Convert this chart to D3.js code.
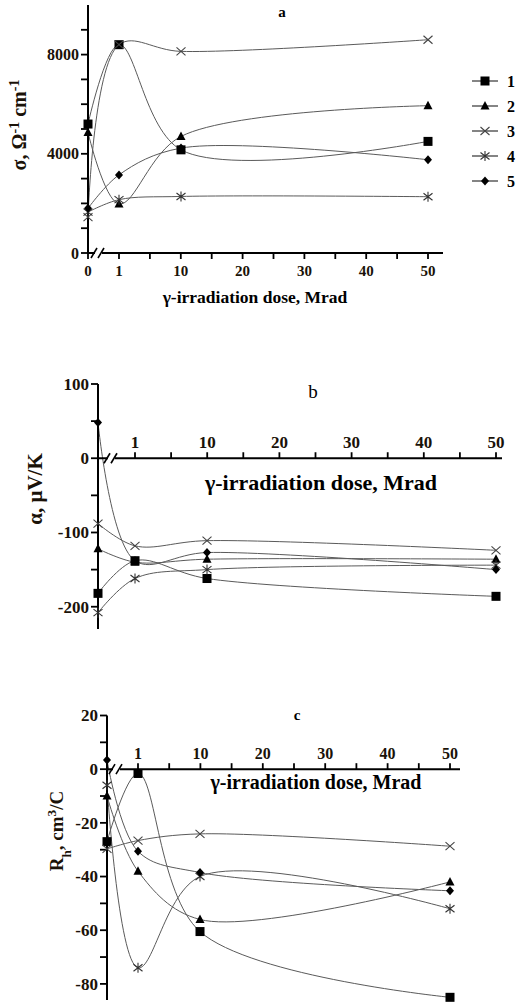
<!DOCTYPE html>
<html>
<head>
<meta charset="utf-8">
<script src="https://cdn.jsdelivr.net/npm/d3@7"></script>
<style>
  body { margin: 0; background: #fff; }
  svg { display: block; font-family: "Liberation Serif", "Times New Roman", serif; }
</style>
</head>
<body>
<svg id="chart" width="516" height="1003"></svg>
<script>
// doses, Mrad
var doses = [0, 1, 10, 50];
var seriesNames = ["1", "2", "3", "4", "5"];
var markerKinds = ["square", "triangle", "cross", "star", "diamond"];

// panel a: conductivity
var sigma1 = [5200, 8400, 4160, 4500];
var sigma2 = [4860, 1980, 4700, 5940];
var sigma3 = [1450, 8400, 8130, 8600];
var sigma4 = [1650, 2150, 2280, 2270];
var sigma5 = [1800, 3150, 4230, 3760];

// panel b: thermopower
var alpha1 = [-182, -138, -162, -186];
var alpha2 = [-122, -140, -136, -136];
var alpha3 = [-88, -118, -111, -124];
var alpha4 = [-208, -162, -150, -144];
var alpha5 = [48, -138, -127, -150];

// panel c: Hall coefficient
var hall1 = [-27, -1.6, -60.5, -85];
var hall2 = [-10, -38, -56, -42];
var hall3 = [-29.7, -26.6, -24.1, -28.7];
var hall4 = [-6, -74, -40, -52];
var hall5 = [3.4, -30.6, -38.5, -45.3];

var xTickLabels = [10, 20, 30, 40, 50];
var xMinorTicks = [5, 15, 25, 35, 45];
var sigmaTicks = d3.range(0, 10000, 1000);
var sigmaLabels = [0, 4000, 8000];
var alphaTicks = d3.range(-200, 101, 50);
var alphaLabels = [-200, -100, 0, 100];
var hallTicks = d3.range(-80, 21, 10);
var hallLabels = [-80, -60, -40, -20, 0, 20];

var svg = d3.select("#chart");
var lineColor = "#5a5a5a";
var labelColor = "#1a1208";

function drawMarker(g, kind, cx, cy) {
    if (kind == "square") {
        g.append("rect").attr("x", cx - 4.5).attr("y", cy - 4.5)
            .attr("width", 9).attr("height", 9).attr("fill", "#000");
    } else if (kind == "triangle") {
        g.append("path").attr("d", "M" + cx + "," + (cy - 5) + "L" + (cx + 4.5) + "," + (cy + 3.5) + "L" + (cx - 4.5) + "," + (cy + 3.5) + "Z")
            .attr("fill", "#000");
    } else if (kind == "cross") {
        g.append("path").attr("d", "M" + (cx - 4.5) + "," + (cy - 4) + "L" + (cx + 4.5) + "," + (cy + 4) + "M" + (cx - 4.5) + "," + (cy + 4) + "L" + (cx + 4.5) + "," + (cy - 4))
            .attr("stroke", "#444").attr("stroke-width", 1.1);
    } else if (kind == "star") {
        g.append("path").attr("d", "M" + cx + "," + (cy - 5) + "L" + cx + "," + (cy + 5) + "M" + (cx - 4.5) + "," + (cy - 3.5) + "L" + (cx + 4.5) + "," + (cy + 3.5) + "M" + (cx - 4.5) + "," + (cy + 3.5) + "L" + (cx + 4.5) + "," + (cy - 3.5))
            .attr("stroke", "#333").attr("stroke-width", 1.1);
    } else {
        g.append("path").attr("d", "M" + cx + "," + (cy - 4.5) + "L" + (cx + 4) + "," + cy + "L" + cx + "," + (cy + 4.5) + "L" + (cx - 4) + "," + cy + "Z")
            .attr("fill", "#000");
    }
}

function drawPanel(p) {
    var g = svg.append("g");
    var x = d3.scaleLinear().domain(doses).range(p.xRange);
    var u = d3.scaleLinear().domain([0, 50]).range([p.xRange[1], p.uEnd]);
    var y = d3.scaleLinear().domain(p.yDomain).range(p.yRange);
    var x0 = p.xRange[0];
    var axisY = y(p.axisAt);
    var dir = p.ticksUp ? -1 : 1;

    // curves
    var line = d3.line()
        .x(function (d, i) { return x(doses[i]); })
        .y(function (d) { return y(d); })
        .curve(d3.curveCatmullRom.alpha(0.5));
    p.series.forEach(function (s) {
        g.append("path").attr("d", line(s))
            .attr("fill", "none").attr("stroke", lineColor).attr("stroke-width", 1);
    });

    // y axis
    g.append("line").attr("x1", x0).attr("x2", x0)
        .attr("y1", y(p.yDomain[0])).attr("y2", y(p.yDomain[1]))
        .attr("stroke", "#000").attr("stroke-width", 2);
    p.yTicks.forEach(function (t) {
        g.append("line").attr("x1", x0 - 7).attr("x2", x0)
            .attr("y1", y(t)).attr("y2", y(t)).attr("stroke", "#000").attr("stroke-width", 1.8);
    });
    p.yLabels.forEach(function (t) {
        g.append("text").attr("x", x0 - 9).attr("y", y(t) + p.yTickSize * 0.35)
            .attr("text-anchor", "end").attr("font-weight", "bold").attr("font-size", p.yTickSize)
            .attr("fill", labelColor).text(t);
    });

    // x axis
    g.append("line").attr("x1", x0).attr("x2", p.xEnd)
        .attr("y1", axisY).attr("y2", axisY).attr("stroke", "#000").attr("stroke-width", 2);
    g.append("rect").attr("x", p.brk).attr("y", axisY - 2).attr("width", 7).attr("height", 4).attr("fill", "#fff");
    [p.brk - 1, p.brk + 6].forEach(function (bx) {
        g.append("line").attr("x1", bx - 3).attr("x2", bx + 3)
            .attr("y1", axisY + 5).attr("y2", axisY - 5).attr("stroke", "#000").attr("stroke-width", 1.6);
    });
    var majors = [x0, x(1)].concat(xTickLabels.map(u));
    var minors = xMinorTicks.map(u);
    majors.concat(minors).forEach(function (tx) {
        g.append("line").attr("x1", tx).attr("x2", tx)
            .attr("y1", axisY).attr("y2", axisY + dir * 6).attr("stroke", "#000").attr("stroke-width", 1.8);
    });
    var labelY = p.ticksUp ? axisY - 10 : axisY + 23;
    var labs = [{ v: 1, px: x(1) }].concat(xTickLabels.map(function (t) { return { v: t, px: u(t) }; }));
    if (!p.ticksUp) labs.unshift({ v: 0, px: x0 });
    labs.forEach(function (l) {
        g.append("text").attr("x", l.px).attr("y", labelY)
            .attr("text-anchor", "middle").attr("font-weight", "bold").attr("font-size", p.xTickSize)
            .attr("fill", labelColor).text(l.v);
    });
    g.append("text").attr("x", p.titlePos[0]).attr("y", p.titlePos[1])
        .attr("text-anchor", "middle").attr("font-weight", "bold").attr("font-size", p.titleSize)
        .text("γ-irradiation dose, Mrad");

    // y label
    var yl = g.append("text").attr("transform", "translate(" + p.yLabelPos[0] + "," + p.yLabelPos[1] + ") rotate(-90)")
        .attr("text-anchor", "middle").attr("font-weight", "bold").attr("font-size", p.yLabelSize)
        .attr("fill", labelColor);
    p.yLabelParts.forEach(function (part) {
        var ts = yl.append("tspan").text(part[0]);
        if (part[1] == "sup") ts.attr("baseline-shift", "super").attr("font-size", p.yLabelSize * 0.7);
        if (part[1] == "sub") ts.attr("baseline-shift", "sub").attr("font-size", p.yLabelSize * 0.7);
    });

    // panel letter
    g.append("text").attr("x", p.letterPos[0]).attr("y", p.letterPos[1])
        .attr("text-anchor", "middle").attr("font-weight", p.letterWeight).attr("font-size", p.letterSize)
        .text(p.letter);

    // markers
    p.series.forEach(function (s, k) {
        s.forEach(function (v, i) {
            drawMarker(g, markerKinds[k], x(doses[i]), y(v));
        });
    });
}

drawPanel({
    series: [sigma1, sigma2, sigma3, sigma4, sigma5],
    xRange: [88, 119, 181, 428], uEnd: 428, xEnd: 443, brk: 95,
    yDomain: [0, 10000], yRange: [253, 5], axisAt: 0, ticksUp: false,
    yTicks: sigmaTicks, yLabels: sigmaLabels, yTickSize: 16, xTickSize: 15,
    titlePos: [255, 303], titleSize: 17.5,
    yLabelPos: [26, 125], yLabelSize: 20,
    yLabelParts: [["σ, Ω"], ["-1", "sup"], [" cm"], ["-1", "sup"]],
    letter: "a", letterPos: [282, 17], letterWeight: "bold", letterSize: 15
});

drawPanel({
    series: [alpha1, alpha2, alpha3, alpha4, alpha5],
    xRange: [98, 135, 207, 496], uEnd: 496, xEnd: 502, brk: 108,
    yDomain: [-230, 100], yRange: [629, 384], axisAt: 0, ticksUp: true,
    yTicks: alphaTicks, yLabels: alphaLabels, yTickSize: 17, xTickSize: 17,
    titlePos: [321, 490], titleSize: 22,
    yLabelPos: [42, 489], yLabelSize: 21,
    yLabelParts: [["α, μV/K"]],
    letter: "b", letterPos: [313, 398], letterWeight: "normal", letterSize: 19
});

drawPanel({
    series: [hall1, hall2, hall3, hall4, hall5],
    xRange: [107, 138, 200, 450], uEnd: 450, xEnd: 460, brk: 113,
    yDomain: [-86, 20], yRange: [1000, 715.5], axisAt: 0, ticksUp: true,
    yTicks: hallTicks, yLabels: hallLabels, yTickSize: 17, xTickSize: 16,
    titlePos: [316, 789], titleSize: 20,
    yLabelPos: [63, 831], yLabelSize: 19,
    yLabelParts: [["R"], ["h", "sub"], [", cm"], ["3", "sup"], ["/C"]],
    letter: "c", letterPos: [297, 720], letterWeight: "bold", letterSize: 15
});

// legend for panel a
var legend = svg.append("g");
seriesNames.forEach(function (name, k) {
    var ly = 81 + k * 25;
    legend.append("line").attr("x1", 472).attr("x2", 498).attr("y1", ly).attr("y2", ly)
        .attr("stroke", "#333").attr("stroke-width", 1.2);
    drawMarker(legend, markerKinds[k], 485, ly);
    legend.append("text").attr("x", 507).attr("y", ly + 5.5)
        .attr("font-weight", "bold").attr("font-size", 16).text(name);
});
</script>
</body>
</html>
